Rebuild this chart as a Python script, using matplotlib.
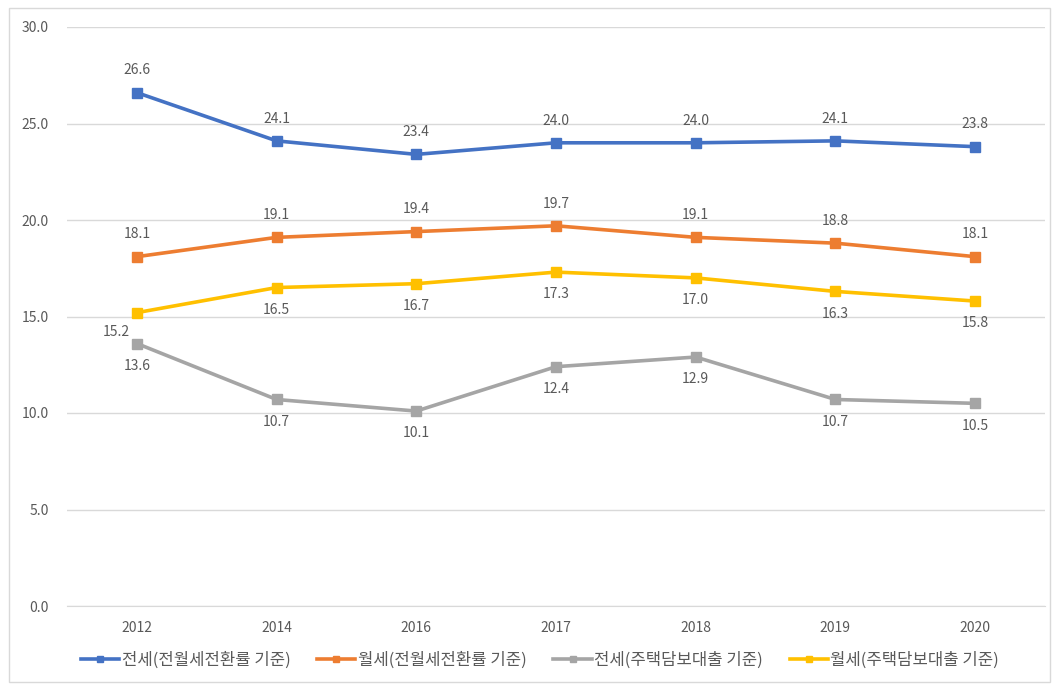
import matplotlib
matplotlib.use("Agg")
import matplotlib.pyplot as plt
from matplotlib.patches import Rectangle

plt.rcParams['font.family'] = ['Noto Sans CJK KR', 'DejaVu Sans']

years = ["2012", "2014", "2016", "2017", "2018", "2019", "2020"]
jeonse_conv = [26.6, 24.1, 23.4, 24.0, 24.0, 24.1, 23.8]
wolse_conv = [18.1, 19.1, 19.4, 19.7, 19.1, 18.8, 18.1]
jeonse_loan = [13.6, 10.7, 10.1, 12.4, 12.9, 10.7, 10.5]
wolse_loan = [15.2, 16.5, 16.7, 17.3, 17.0, 16.3, 15.8]

names = ["전세(전월세전환률 기준)", "월세(전월세전환률 기준)",
         "전세(주택담보대출 기준)", "월세(주택담보대출 기준)"]
colors = ["#4472C4", "#ED7D31", "#A5A5A5", "#FFC000"]
text_c = "#595959"
grid_c = "#D9D9D9"

fig = plt.figure(figsize=(10.55, 6.85), dpi=100)
ax = fig.add_axes([67 / 1055, 1 - 606 / 685, 978 / 1055, 579 / 685])

xs = list(range(len(years)))
series = [jeonse_conv, wolse_conv, jeonse_loan, wolse_loan]
# label placement: above for the first two, below for the loan-based ones
above = [True, True, False, False]
for vals, name, c, up in zip(series, names, colors, above):
    ax.plot(xs, vals, color=c, lw=2.6, marker="s", ms=6.5, label=name,
            solid_joinstyle="round", zorder=3)
    for i, v in enumerate(vals):
        dx, dy = 0, (16 if up else -16)
        if vals is wolse_loan and i == 0:
            dx, dy = -15, -14
        ax.annotate(f"{v:.1f}", (i, v), xytext=(dx, dy), textcoords="offset points",
                    ha="center", va="center", fontsize=10, color=text_c)

ax.set_xlim(-0.5, len(years) - 0.5)
ax.set_ylim(0, 30)
ax.set_yticks([0, 5, 10, 15, 20, 25, 30])
ax.set_yticklabels([f"{t:.1f}" for t in [0, 5, 10, 15, 20, 25, 30]])
ax.set_xticks(xs)
ax.set_xticklabels(years)
ax.tick_params(axis="both", length=0, labelsize=10, colors=text_c)
ax.tick_params(axis="y", pad=13)
ax.tick_params(axis="x", pad=11)
ax.grid(axis="y", color=grid_c, lw=1)
ax.set_axisbelow(True)
for s in ["top", "right", "left"]:
    ax.spines[s].set_visible(False)
ax.spines["bottom"].set_color(grid_c)

leg = ax.legend(loc="center", bbox_to_anchor=(540 / 1055, 1 - 660 / 685),
                bbox_transform=fig.transFigure, ncol=4, frameon=False,
                fontsize=12, handlelength=2.3, columnspacing=1.6,
                handletextpad=0.15, markerscale=0.75)
for t in leg.get_texts():
    t.set_color(text_c)

fig.patches.append(Rectangle((9 / 1055, 3 / 685), 1041 / 1055, 674 / 685,
                             transform=fig.transFigure, fill=False,
                             edgecolor=grid_c, lw=1))

fig.savefig("out.png", dpi=100)
